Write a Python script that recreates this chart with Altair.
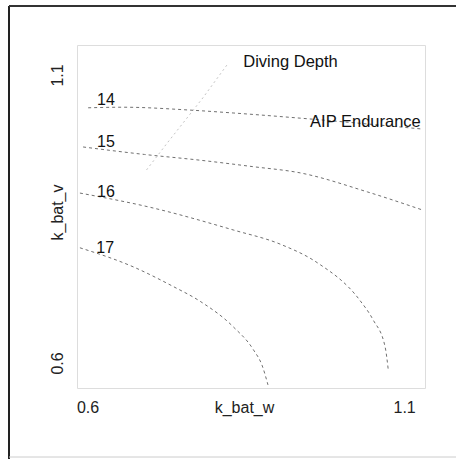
import altair as alt
import pandas as pd

# Contour lines (k_bat_w, k_bat_v)
c14_x = [0.601, 0.656, 0.762, 0.830, 0.936, 1.130]
c14_y = [1.043, 1.044, 1.039, 1.034, 1.025, 1.006]
c15_x = [0.593, 0.690, 0.778, 0.860, 0.936, 1.042, 1.128]
c15_y = [0.975, 0.962, 0.952, 0.941, 0.930, 0.897, 0.866]
c16_x = [0.588, 0.700, 0.830, 0.905, 0.963, 1.030, 1.051, 1.070, 1.075]
c16_y = [0.895, 0.870, 0.831, 0.806, 0.774, 0.709, 0.675, 0.628, 0.588]
c17_x = [0.588, 0.672, 0.735, 0.778, 0.830, 0.862, 0.876, 0.885]
c17_y = [0.800, 0.767, 0.733, 0.707, 0.663, 0.623, 0.595, 0.562]
dd_x = [0.820, 0.782, 0.767, 0.726, 0.691]
dd_y = [1.117, 1.060, 1.039, 0.982, 0.932]

lab_text = ["14", "15", "16", "17"]
lab_x = [0.629, 0.629, 0.629, 0.628]
lab_y = [1.057, 0.984, 0.897, 0.800]

name_text = ["Diving Depth", "AIP Endurance"]
name_x = [0.846, 0.9515]
name_y = [1.1226, 1.018]

x_ticks = [0.6, 1.1]
y_ticks = [0.6, 1.1]
x_dom = [0.5834, 1.133]
y_dom = [0.5566, 1.152]

rows = []
for name, xs, ys in [("14", c14_x, c14_y), ("15", c15_x, c15_y),
                     ("16", c16_x, c16_y), ("17", c17_x, c17_y)]:
    for i, (a, b) in enumerate(zip(xs, ys)):
        rows.append({"series": name, "x": a, "y": b, "i": i})
contours = pd.DataFrame(rows)
dd = pd.DataFrame({"x": dd_x, "y": dd_y, "i": list(range(len(dd_x)))})
labs = pd.DataFrame({"t": lab_text, "x": lab_x, "y": lab_y})
names = pd.DataFrame({"t": name_text, "x": name_x, "y": name_y})

FONT = "Liberation Sans"

xs = alt.Scale(domain=x_dom, zero=False, nice=False)
ys = alt.Scale(domain=y_dom, zero=False, nice=False)

x_axis = alt.Axis(values=x_ticks, format=".1f", title="k_bat_w", grid=False,
                  ticks=False, tickSize=0, domain=False, labelPadding=19,
                  labelBaseline="middle", labelFontSize=16, labelFont=FONT,
                  labelColor="#222", titleFont=FONT, titleFontSize=16,
                  titleFontWeight="normal", titleColor="#222", titleX=167,
                  titleY=19, titleBaseline="middle", titleAlign="center")
y_axis = alt.Axis(values=y_ticks, format=".1f", title="k_bat_v", grid=False,
                  ticks=False, tickSize=0, domain=False, labelPadding=20,
                  labelAngle=270, labelAlign="center", labelBaseline="middle",
                  labelFontSize=16, labelFont=FONT, labelColor="#222",
                  titleFont=FONT, titleFontSize=16, titleFontWeight="normal",
                  titleColor="#222", titleX=-20, titleY=167, titleAngle=270,
                  titleBaseline="middle", titleAlign="center")

lines = alt.Chart(contours).mark_line(
    color="#707070", strokeDash=[3, 3], strokeWidth=1, interpolate="monotone"
).encode(
    x=alt.X("x:Q", scale=xs, axis=x_axis),
    y=alt.Y("y:Q", scale=ys, axis=y_axis),
    detail="series:N",
    order="i:Q",
)

ddline = alt.Chart(dd).mark_line(
    color="#c4c4c4", strokeDash=[2, 3], strokeWidth=1
).encode(x=alt.X("x:Q", scale=xs), y=alt.Y("y:Q", scale=ys), order="i:Q")

labels = alt.Chart(labs).mark_text(
    font=FONT, fontSize=16, color="#111", align="center", baseline="middle"
).encode(x=alt.X("x:Q", scale=xs), y=alt.Y("y:Q", scale=ys), text="t:N")

name_labels = alt.Chart(names).mark_text(
    font=FONT, fontSize=16.5, color="#111", align="left", baseline="middle"
).encode(x=alt.X("x:Q", scale=xs), y=alt.Y("y:Q", scale=ys), text="t:N")

dummy = pd.DataFrame({"a": [0]})
frame_left = alt.Chart(dummy).mark_rule(color="#222", strokeWidth=2).encode(
    x=alt.value(-68), y=alt.value(-39), y2=alt.value(414))
frame_top = alt.Chart(dummy).mark_rule(color="#333", strokeWidth=2).encode(
    x=alt.value(-68), x2=alt.value(379), y=alt.value(-39))
frame_bottom = alt.Chart(dummy).mark_rule(color="#ccc", strokeWidth=1).encode(
    x=alt.value(-68), x2=alt.value(379), y=alt.value(412))

chart = alt.layer(
    frame_left, frame_top, frame_bottom, ddline, lines, labels, name_labels
).properties(
    width=348, height=343,
    autosize=alt.AutoSizeParams(type="none"),
    padding={"left": 77, "top": 45, "right": 31, "bottom": 71},
).configure_view(stroke="#555", strokeWidth=1.5).configure(background="white")

chart.save("out.html", embed_options={"renderer": "svg", "actions": False})
